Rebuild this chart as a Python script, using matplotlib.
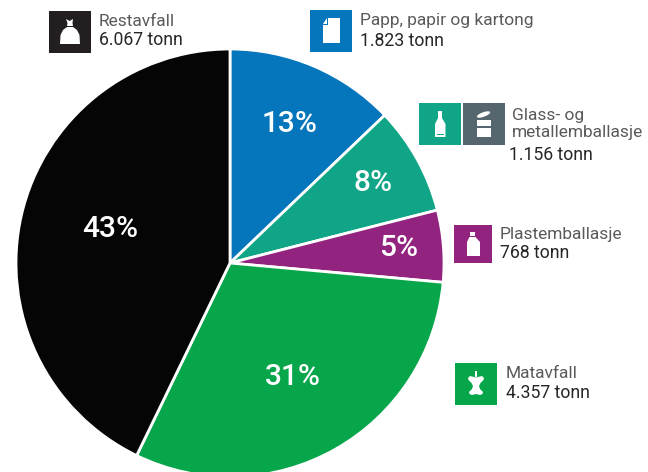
import matplotlib

matplotlib.use("Agg")
from matplotlib import pyplot as plt
from matplotlib.patches import Ellipse, Polygon, Rectangle

W, H = 648, 472

# Tonnes per fraction, clockwise from the top
categories = ["Papp, papir og kartong", "Glass- og\nmetallemballasje", "Plastemballasje", "Matavfall", "Restavfall"]
tonnes = [1823, 1156, 768, 4357, 6067]
tonnes_labels = ["1.823 tonn", "1.156 tonn", "768 tonn", "4.357 tonn", "6.067 tonn"]
percent_labels = ["13%", "8%", "5%", "31%", "43%"]
colors = ["#0575BC", "#10A586", "#92237F", "#08A64B", "#050505"]

# Layout in reference pixels
percent_pos = [(290, 124), (373, 183), (399, 248), (293, 377), (110, 229)]
name_pos = [(360, 21), (512, 124), (500, 234), (506, 373), (99, 21)]
amount_pos = [(360, 41), (509, 155), (500, 253), (506, 393), (99, 40)]

CENTER = (230, 263)
RADIUS = 214
METAL = "#55666F"
BLACK_ICON = "#231F20"

plt.rcParams["font.family"] = ["Roboto", "DejaVu Sans"]

fig = plt.figure(figsize=(W / 100, H / 100), dpi=100)
fig.patch.set_facecolor("white")

# Pie axes, runs a bit past the bottom edge like the reference
pie_ax = fig.add_axes(
    [
        (CENTER[0] - RADIUS) / W,
        1 - (CENTER[1] + RADIUS) / H,
        2 * RADIUS / W,
        2 * RADIUS / H,
    ]
)
pie_ax.pie(
    tonnes,
    colors=colors,
    startangle=90,
    counterclock=False,
    radius=1,
    wedgeprops={"edgecolor": "white", "linewidth": 2.0},
)
pie_ax.set_xlim(-1, 1)
pie_ax.set_ylim(-1, 1)
pie_ax.axis("off")
for w in pie_ax.patches:
    w.set_clip_on(False)

# Overlay in pixel coordinates for labels and icons
ax = fig.add_axes([0, 0, 1, 1])
ax.set_xlim(0, W)
ax.set_ylim(H, 0)
ax.axis("off")
ax.patch.set_alpha(0)


def square(x, y, size, color):
    ax.add_patch(Rectangle((x, y), size, size, facecolor=color, edgecolor="none"))


def shape(x, y, pts, color="white"):
    ax.add_patch(Polygon([(x + a, y + b) for a, b in pts], facecolor=color, edgecolor="none"))


def icon_paper(x, y):
    square(x, y, 42, colors[0])
    shape(x, y, [(18, 8), (30, 8), (30, 33), (12.5, 33), (12.5, 14.5), (18, 14.5)])
    shape(x, y, [(17, 8), (17, 13.5), (12.5, 13.5)])


def icon_bottle(x, y):
    square(x, y, 42, colors[1])
    shape(
        x,
        y,
        [(19, 8), (23, 8), (23, 15), (26.5, 21), (26.5, 34), (16, 34), (16, 21), (19, 15)],
    )
    ax.add_patch(Rectangle((x + 18, y + 31), 7, 1.2, facecolor=colors[1], edgecolor="none"))


def icon_can(x, y):
    square(x, y, 42, METAL)
    ax.add_patch(
        Ellipse((x + 20.5, y + 11.5), 14, 4.5, angle=-20, facecolor="white", edgecolor="none")
    )
    ax.add_patch(Rectangle((x + 14, y + 17), 14, 6, facecolor="white", edgecolor="none"))
    ax.add_patch(Rectangle((x + 14, y + 25), 14, 9, facecolor="white", edgecolor="none"))


def icon_plastic(x, y):
    square(x, y, 38, colors[2])
    shape(x, y, [(16, 7), (21, 7), (21, 11), (16, 11)])
    shape(
        x,
        y,
        [(15.5, 12), (21.5, 12), (26, 17), (26, 31), (13, 31), (13, 17)],
    )


def icon_apple(x, y):
    square(x, y, 42, colors[3])
    shape(
        x,
        y,
        [(15, 13), (21, 14.5), (27, 13), (29, 15), (28.5, 17), (25.5, 20), (24, 23), (25, 26),
         (28, 29), (27.5, 31), (25, 32), (21, 31), (17, 32), (14.5, 31), (14, 29),
         (17, 26), (18, 23), (16.5, 20), (13.5, 17), (13, 15)],
    )
    shape(x, y, [(20, 8), (21.5, 8), (21.5, 14), (20, 14)])


def icon_bag(x, y):
    square(x, y, 42, BLACK_ICON)
    shape(
        x,
        y,
        [(18, 16), (24, 16), (28, 19), (30.5, 24), (31, 33), (11, 33), (11.5, 24), (14, 19)],
    )
    shape(x, y, [(17, 8), (20.5, 10), (24, 8), (23.5, 12), (24, 15), (18, 15), (18.5, 12)])


icon_bag(49, 11)
icon_paper(310, 10)
icon_bottle(419, 103)
icon_can(463, 103)
icon_plastic(454, 225)
icon_apple(455, 363)

for label, (x, y) in zip(percent_labels, percent_pos):
    ax.text(x, y, label, color="white", fontsize=21.5, ha="center", va="center", fontweight="medium")

for name, (x, y) in zip(categories, name_pos):
    ax.text(
        x, y, name, color="#5a5a5a", fontsize=12.5, ha="left", va="center",
        linespacing=1.2,
    )

for amount, (x, y) in zip(tonnes_labels, amount_pos):
    ax.text(x, y, amount, color="#262626", fontsize=12.7, ha="left", va="center")

fig.savefig("out.png", dpi=100)
